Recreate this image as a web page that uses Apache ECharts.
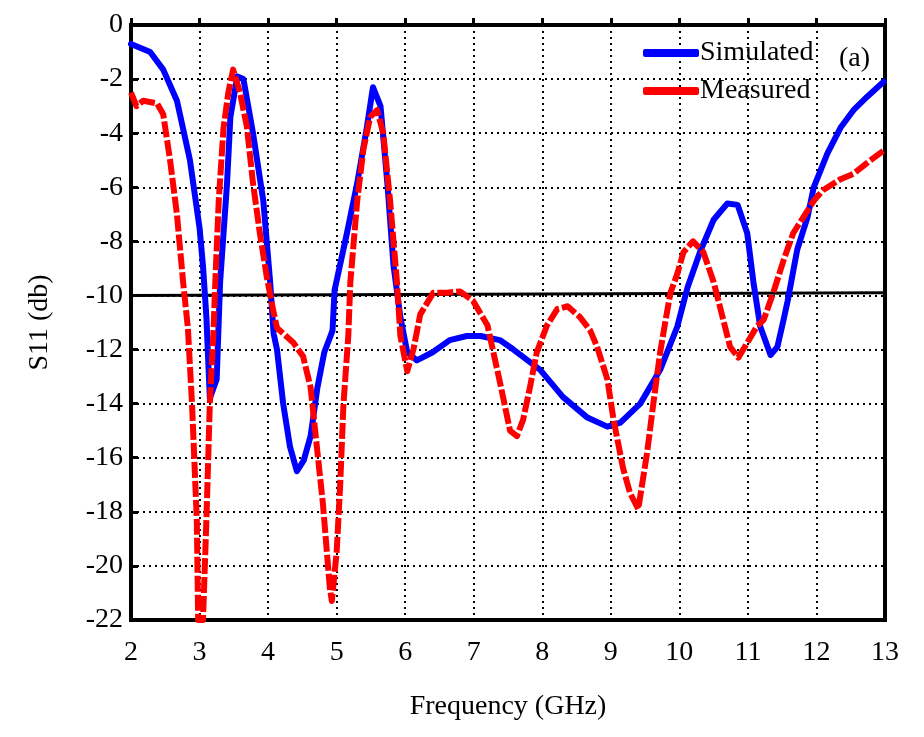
<!DOCTYPE html>
<html>
<head>
<meta charset="utf-8">
<script src="https://cdn.jsdelivr.net/npm/echarts@6/dist/echarts.min.js"></script>
<style>
  html, body { margin: 0; padding: 0; background: #fff; }
  #chart { width: 924px; height: 737px; }
</style>
</head>
<body>
<div id="chart"></div>
<script>
// 读自原图的数据
const simFreq = [2.0, 2.28, 2.47, 2.67, 2.86, 3.0, 3.05, 3.1, 3.15, 3.25, 3.3, 3.4, 3.45, 3.55, 3.64, 3.78, 3.93, 4.03, 4.08, 4.13, 4.22, 4.32, 4.42, 4.52, 4.62, 4.72, 4.82, 4.94, 4.97, 5.15, 5.3, 5.44, 5.53, 5.64, 5.74, 5.83, 5.93, 6.03, 6.17, 6.4, 6.65, 6.9, 7.1, 7.38, 7.58, 7.97, 8.3, 8.65, 8.95, 9.14, 9.43, 9.72, 9.97, 10.12, 10.3, 10.5, 10.7, 10.85, 10.99, 11.08, 11.18, 11.33, 11.43, 11.52, 11.58, 11.72, 11.87, 11.96, 12.16, 12.35, 12.54, 12.74, 12.98]
const simS11 = [-0.7, -1.0, -1.65, -2.8, -5.0, -7.5, -8.9, -10.8, -13.8, -13.1, -9.5, -5.9, -3.4, -1.9, -2.0, -4.0, -6.5, -9.5, -11.4, -12.0, -14.0, -15.6, -16.5, -16.1, -15.2, -13.4, -12.1, -11.3, -9.8, -7.7, -5.85, -3.8, -2.3, -3.0, -5.85, -8.9, -10.8, -12.1, -12.4, -12.1, -11.65, -11.5, -11.5, -11.65, -12.0, -12.75, -13.75, -14.5, -14.85, -14.7, -14.0, -12.75, -11.15, -9.7, -8.4, -7.2, -6.6, -6.65, -7.7, -9.5, -11.15, -12.2, -11.9, -10.9, -10.2, -8.3, -7.1, -6.0, -4.75, -3.8, -3.15, -2.65, -2.1]

const measFreq = [2.0, 2.08, 2.18, 2.38, 2.47, 2.57, 2.67, 2.76, 2.83, 2.89, 2.96, 2.98, 3.05, 3.1, 3.15, 3.2, 3.23, 3.28, 3.35, 3.42, 3.49, 3.59, 3.69, 3.78, 3.88, 3.98, 4.07, 4.13, 4.37, 4.51, 4.62, 4.72, 4.8, 4.9, 4.93, 5.0, 5.05, 5.1, 5.17, 5.2, 5.3, 5.39, 5.49, 5.59, 5.68, 5.78, 5.88, 5.93, 6.03, 6.12, 6.22, 6.41, 6.61, 6.8, 6.99, 7.2, 7.39, 7.53, 7.63, 7.72, 7.82, 7.92, 8.07, 8.22, 8.37, 8.55, 8.7, 8.8, 8.95, 9.04, 9.18, 9.28, 9.4, 9.53, 9.62, 9.72, 9.8, 9.87, 9.97, 10.06, 10.2, 10.35, 10.5, 10.64, 10.74, 10.86, 10.99, 11.13, 11.23, 11.37, 11.52, 11.66, 11.81, 11.96, 12.1, 12.35, 12.54, 12.74, 13.0]
const measS11 = [-2.5, -3.0, -2.8, -2.9, -3.3, -5.0, -7.0, -9.5, -11.2, -14.0, -18.3, -22.0, -22.0, -18.3, -14.0, -11.5, -9.5, -6.5, -3.8, -2.5, -1.65, -2.5, -3.75, -5.85, -7.7, -9.3, -10.5, -11.2, -11.75, -12.25, -13.4, -15.8, -17.7, -20.8, -21.3, -19.5, -17.1, -14.0, -11.5, -9.5, -6.5, -4.6, -3.4, -3.15, -4.0, -6.5, -9.5, -11.5, -12.8, -12.0, -10.7, -9.9, -9.9, -9.85, -10.2, -11.1, -13.3, -15.0, -15.2, -14.6, -13.4, -12.1, -11.1, -10.5, -10.4, -10.8, -11.3, -11.9, -13.1, -14.6, -16.4, -17.3, -17.9, -15.8, -14.0, -12.1, -10.9, -9.9, -9.2, -8.4, -8.0, -8.4, -9.5, -10.9, -11.9, -12.3, -11.75, -11.15, -10.9, -9.9, -8.7, -7.7, -7.1, -6.5, -6.1, -5.7, -5.5, -5.1, -4.6]

const refFreq = [2, 13]
const refS11 = [-10, -9.9]

const xTicks = [2, 3, 4, 5, 6, 7, 8, 9, 10, 11, 12, 13]
const yTicks = [0, -2, -4, -6, -8, -10, -12, -14, -16, -18, -20, -22]

const pairs = (xs, ys) => xs.map((x, i) => [x, ys[i]])

const serif = 'Liberation Serif'
const chart = echarts.init(document.getElementById('chart'))

chart.setOption({
    animation: false,
    backgroundColor: '#fff',
    textStyle: { fontFamily: serif },
    title: {
        text: '(a)',
        left: 834,
        top: 40,
        textStyle: { fontFamily: serif, fontSize: 28, fontWeight: 'normal', color: '#000' }
    },
    legend: {
        orient: 'vertical',
        left: 638,
        top: 34,
        itemWidth: 56,
        itemHeight: 8,
        itemGap: 10,
        icon: 'roundRect',
        textStyle: { fontFamily: serif, fontSize: 28, color: '#000', padding: [4, 0, 0, -4] },
        data: ['Simulated', 'Measured']
    },
    grid: {
        left: 131,
        right: 39,
        top: 25,
        bottom: 117,
        show: true,
        borderColor: '#000',
        borderWidth: 4
    },
    xAxis: {
        type: 'value',
        min: xTicks[0],
        max: xTicks[xTicks.length - 1],
        interval: 1,
        name: 'Frequency (GHz)',
        nameLocation: 'middle',
        nameGap: 73,
        nameTextStyle: { fontFamily: serif, fontSize: 28, color: '#000' },
        axisLine: { show: true, lineStyle: { color: '#000', width: 4 } },
        axisTick: { show: true, inside: true, length: 7, lineStyle: { color: '#000', width: 3 } },
        axisLabel: { fontFamily: serif, fontSize: 28, color: '#000', margin: 19 },
        splitLine: { show: true, lineStyle: { color: '#000', width: 2, type: [2, 4] } }
    },
    yAxis: {
        type: 'value',
        min: yTicks[yTicks.length - 1],
        max: yTicks[0],
        interval: 2,
        name: 'S11 (db)',
        nameLocation: 'middle',
        nameGap: 77,
        nameTextStyle: { fontFamily: serif, fontSize: 28, color: '#000' },
        axisLine: { show: true, lineStyle: { color: '#000', width: 4 } },
        axisTick: { show: true, inside: true, length: 7, lineStyle: { color: '#000', width: 3 } },
        axisLabel: { fontFamily: serif, fontSize: 28, color: '#000', margin: 8 },
        splitLine: { show: true, lineStyle: { color: '#000', width: 2, type: [2, 4] } }
    },
    series: [
        {
            name: '-10 dB',
            type: 'line',
            data: pairs(refFreq, refS11),
            showSymbol: false,
            silent: true,
            lineStyle: { color: '#000', width: 3 },
            z: 1
        },
        {
            name: 'Simulated',
            type: 'line',
            data: pairs(simFreq, simS11),
            showSymbol: false,
            color: '#0000ff',
            lineStyle: { color: '#0000ff', width: 6, cap: 'round', join: 'round' },
            z: 3
        },
        {
            name: 'Measured',
            type: 'line',
            data: pairs(measFreq, measS11),
            showSymbol: false,
            color: '#ff0000',
            lineStyle: { color: '#ff0000', width: 6, type: [16, 3], cap: 'butt', join: 'round' },
            z: 4
        }
    ]
})
</script>
</body>
</html>
